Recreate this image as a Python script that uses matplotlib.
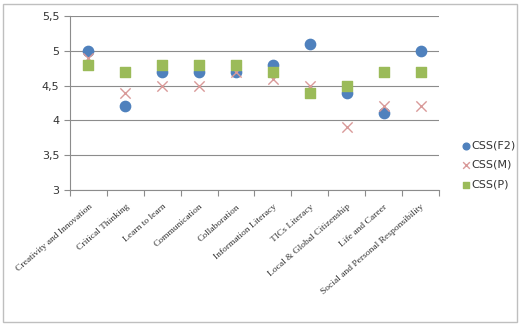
import matplotlib.pyplot as plt
import matplotlib.ticker as mticker
import numpy as np
from matplotlib.patches import Rectangle

categories = ['Creativity and Innovation', 'Critical Thinking', 'Learn to learn',
              'Communication', 'Collaboration', 'Information Literacy',
              'TICs Literacy', 'Local & Global Citizenship', 'Life and Career',
              'Social and Personal Responsibility']
css_f2 = [5.0, 4.2, 4.7, 4.7, 4.7, 4.8, 5.1, 4.4, 4.1, 5.0]
css_m = [4.9, 4.4, 4.5, 4.5, 4.7, 4.6, 4.5, 3.9, 4.2, 4.2]
css_p = [4.8, 4.7, 4.8, 4.8, 4.8, 4.7, 4.4, 4.5, 4.7, 4.7]
series_names = ['CSS(F2)', 'CSS(M)', 'CSS(P)']

fig = plt.figure(figsize=(5.22, 3.26), dpi=100)
ax = fig.add_axes([0.134, 0.417, 0.707, 0.534])

x = np.arange(len(categories))
ax.scatter(x, css_f2, marker='o', s=55, color='#4F81BD', label=series_names[0], zorder=3)
ax.scatter(x, css_m, marker='x', s=55, color='#D99A99', linewidths=1.0, label=series_names[1], zorder=3)
ax.scatter(x, css_p, marker='s', s=50, color='#9BBB59', label=series_names[2], zorder=4)

ax.set_xlim(-0.5, len(categories) - 0.5)
ax.set_ylim(3, 5.5)
ax.yaxis.set_major_locator(mticker.MultipleLocator(0.5))
ax.yaxis.set_major_formatter(mticker.FuncFormatter(
    lambda v, p: ('%g' % v).replace('.', ',')))
ax.grid(axis='y', color='#8c8c8c', linewidth=0.8)
ax.set_axisbelow(True)

for s in ['top', 'right']:
    ax.spines[s].set_visible(False)
for s in ['left', 'bottom']:
    ax.spines[s].set_color('#8c8c8c')

# ticks on category boundaries, labels on centres
ax.set_xticks(np.arange(-0.5, len(categories), 1.0))
ax.set_xticklabels([])
ax.set_xticks(x, minor=True)
ax.set_xticklabels(categories, minor=True, rotation=41, ha='right',
                   rotation_mode='anchor', fontsize=6.8, family='Liberation Serif',
                   color='#333333')
ax.tick_params(axis='x', which='minor', length=0, pad=9)
ax.tick_params(axis='x', which='major', length=4, color='#8c8c8c', direction='out')
ax.tick_params(axis='y', length=4, color='#8c8c8c', labelsize=8, labelcolor='#333333')

ax.legend(loc='upper left', bbox_to_anchor=(1.045, 0.31), frameon=False,
          fontsize=8, handletextpad=0.0, labelspacing=0.85, borderaxespad=0,
          handlelength=1.0, markerscale=0.65, labelcolor='#333333')

fig.patches.append(Rectangle((3 / 522, 4 / 326), 514 / 522, 318 / 326,
                             transform=fig.transFigure, fill=False,
                             edgecolor='#bfbfbf', linewidth=1.0))

fig.savefig('out.png', dpi=100)
